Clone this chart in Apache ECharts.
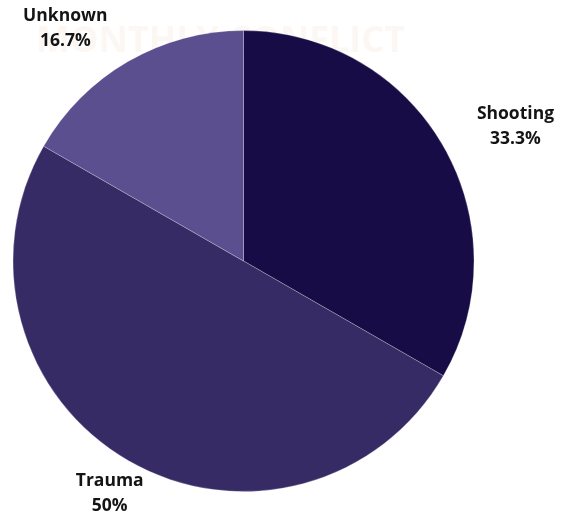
<!DOCTYPE html>
<html>
<head>
<meta charset="utf-8">
<script src="https://cdn.jsdelivr.net/npm/echarts@6/dist/echarts.min.js"></script>
<style>html,body{margin:0;padding:0;background:#fff;}#c{width:562px;height:516px;}</style>
</head>
<body>
<div id="c"></div>
<script>
const categories = ['Shooting', 'Trauma', 'Unknown'];
const values = [33.3, 50, 16.7];
const percentLabels = ['33.3%', '50%', '16.7%'];
const colors = ['#170c45', '#372b65', '#5b4f8f'];

const chart = echarts.init(document.getElementById('c'), null, {renderer: 'canvas'});
const data = categories.map((name, i) => ({
  name: name,
  value: values[i],
  itemStyle: {color: colors[i]}
}));
chart.setOption({
  animation: false,
  graphic: [{
    type: 'text',
    left: 36,
    top: 24,
    z: -1,
    style: {
      text: 'MONTHLY CONFLICT',
      fill: '#fdf7f4',
      font: 'bold 36px "Open Sans"'
    }
  }],
  series: [{
    type: 'pie',
    center: [243.5, 261],
    radius: [0, 230.5],
    startAngle: 90,
    clockwise: true,
    avoidLabelOverlap: false,
    data: data,
    itemStyle: {borderColor: 'rgba(255,255,255,0.3)', borderWidth: 0.8},
    label: {
      show: true,
      position: 'outside',
      distanceToLabelLine: 0,
      formatter: p => p.name + '\n' + percentLabels[p.dataIndex],
      fontFamily: '"Open Sans"',
      fontWeight: 'bold',
      fontSize: 17.5,
      lineHeight: 25,
      color: '#141414',
      align: 'center'
    },
    labelLine: {show: false, length: 38, length2: 0},
    labelLayout: function (p) {
      const w = p.labelRect.width;
      if (p.dataIndex === 0) return {align: 'center', dx: w / 2 + 1};
      if (p.dataIndex === 2) return {align: 'center', dx: -(w / 2 + 1.5)};
      return {align: 'center'};
    },
    emphasis: {disabled: true}
  }]
});
</script>
</body>
</html>
